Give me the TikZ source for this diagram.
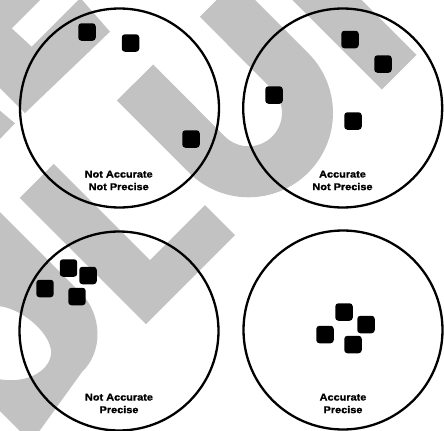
\documentclass[tikz,border=0pt]{standalone}
\usepackage{fontspec}
\newfontfamily\labelfont[FakeStretch=1.11, BoldFeatures={FakeBold=1.2}]{Liberation Sans}
\colorlet{wmgray}{black!24}
\begin{document}
\begin{tikzpicture}[x=0.05cm, y=-0.05cm,
    target/.style={circle, draw, line width=0.115cm, minimum size=9.95cm, inner sep=0pt},
    shot/.style={fill=black, rounded corners=0.16cm, minimum size=0.875cm, inner sep=0pt},
    lbl/.style={align=center, inner sep=0pt, font=\labelfont\bfseries\fontsize{14}{17.9}\selectfont},
    wmfill/.style={fill=wmgray},
    wmband/.style={draw=wmgray}]
  \useasboundingbox (0,0) rectangle (444,431);
  % grey marks behind the targets
  \fill[wmfill, even odd rule] (-2,-2) -- (80.4,-2) -- (110,31.7) -- (25,113) -- (-2,86) -- cycle
    (11.7,28.3) -- (31.7,46.7) -- (80.4,-2) -- (42,-2) -- cycle;
  \fill[wmfill] (-2,109) -- (15,123.3) -- (-2,141) -- cycle;
  \draw[wmband, line width=2.55cm] (135,82.5) -- (206.95,154.55)
    arc[start angle=135, end angle=-45, radius=58.9] -- (217.9,-1.2);
  \draw[wmband, line width=2.45cm] (399.2,72.2) -- (295.2,-31.8);
  \fill[wmfill] (53.75,163.75) -- (150,260) -- (205,205) -- (235,235) -- (146,324) -- (19.75,197.75) -- cycle;
  \fill[wmfill, even odd rule] (-2,210) -- (80,292) .. controls (103,315) and (103,352) .. (82,372)
    -- (38,433) -- (22,433) -- (-2,409) -- cycle
    (-2,306) .. controls (20,308) and (48,330) .. (51,350) .. controls (53,368) and (30,385) .. (-2,379) -- cycle;

  % targets
  \node[target] (tl) at (119.5,108) {};
  \node[target] (tr) at (342.7,108) {};
  \node[target] (bl) at (119,331) {};
  \node[target] (br) at (343,330) {};

  % hits
  \node[shot] (tl1) at (87,32) {};
  \node[shot] (tl2) at (130.5,43) {};
  \node[shot] (tl3) at (191,139) {};

  \node[shot] (tr1) at (350,39.5) {};
  \node[shot] (tr2) at (383,64) {};
  \node[shot] (tr3) at (274,95) {};
  \node[shot] (tr4) at (353,121) {};

  \node[shot] (bl1) at (68.5,268) {};
  \node[shot] (bl2) at (88,275.5) {};
  \node[shot] (bl3) at (45,288.5) {};
  \node[shot] (bl4) at (77,296.5) {};

  \node[shot] (br1) at (344,312) {};
  \node[shot] (br2) at (366,324.5) {};
  \node[shot] (br3) at (325,334.5) {};
  \node[shot] (br4) at (353,344.5) {};

  % labels
  \node[lbl] (tltxt) at (118.7,180.5) {Not Accurate\\Not Precise};
  \node[lbl] (trtxt) at (342.5,180.5) {Accurate\\Not Precise};
  \node[lbl] (bltxt) at (119,403.5) {Not Accurate\\Precise};
  \node[lbl] (brtxt) at (343,403.5) {Accurate\\Precise};
\end{tikzpicture}
\end{document}
